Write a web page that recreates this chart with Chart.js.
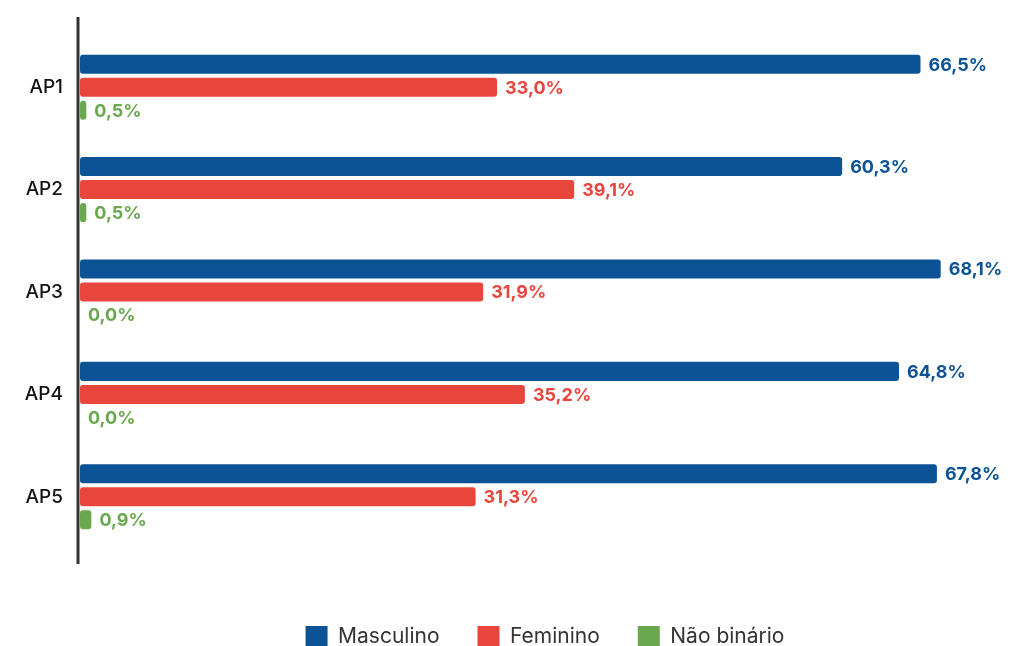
<!DOCTYPE html>
<html>
<head>
<meta charset="utf-8">
<script src="https://cdn.jsdelivr.net/npm/chart.js@4"></script>
<style>
  html, body { margin: 0; padding: 0; background: #fff; }
  #wrap { width: 1010px; height: 646px; overflow: hidden; }
  #box { position: relative; width: 1010px; height: 658px; }
</style>
</head>
<body>
<div id="wrap"><div id="box"><canvas id="chart"></canvas></div></div>
<script>
const categories = ["AP1", "AP2", "AP3", "AP4", "AP5"];
const masculino = [66.5, 60.3, 68.1, 64.8, 67.8];
const feminino = [33.0, 39.1, 31.9, 35.2, 31.3];
const naoBinario = [0.5, 0.5, 0.0, 0.0, 0.9];

const BLUE = "#0b5394";
const RED = "#e8453c";
const GREEN = "#6aa84f";
const FONT = "Inter, 'DejaVu Sans', sans-serif";

// vertical axis line, a bit longer than the plot area
const axisLine = {
    id: "axisLine",
    afterDatasetsDraw(chart) {
        const { ctx, chartArea } = chart;
        ctx.save();
        ctx.strokeStyle = "#333333";
        ctx.lineWidth = 3;
        ctx.beginPath();
        ctx.moveTo(chartArea.left - 2, chartArea.top - 19);
        ctx.lineTo(chartArea.left - 2, chartArea.bottom + 16);
        ctx.stroke();
        ctx.restore();
    }
};

// value labels at the end of each bar
const valueLabels = {
    id: "valueLabels",
    afterDatasetsDraw(chart) {
        const { ctx } = chart;
        ctx.save();
        ctx.font = "bold 18px " + FONT;
        ctx.textBaseline = "middle";
        ctx.textAlign = "left";
        chart.data.datasets.forEach((ds, i) => {
            const meta = chart.getDatasetMeta(i);
            meta.data.forEach((bar, j) => {
                const v = ds.data[j];
                ctx.fillStyle = ds.backgroundColor;
                ctx.fillText(v.toFixed(1).replace(".", ",") + "%", bar.x + 8, bar.y + 1);
            });
        });
        ctx.restore();
    }
};

// center the legend under the plot area instead of the whole canvas
const legendShift = {
    id: "legendShift",
    afterLayout(chart) {
        chart.legend.left = chart.chartArea.left;
        chart.legend.right = chart.width;
    }
};

new Chart(document.getElementById("chart"), {
    type: "bar",
    data: {
        labels: categories,
        datasets: [
            { label: "Masculino", data: masculino, backgroundColor: BLUE },
            { label: "Feminino", data: feminino, backgroundColor: RED },
            { label: "Não binário", data: naoBinario, backgroundColor: GREEN }
        ]
    },
    options: {
        indexAxis: "y",
        responsive: true,
        maintainAspectRatio: false,
        animation: false,
        layout: { padding: { top: 36, right: 20, left: 0, bottom: 0 } },
        datasets: {
            bar: {
                categoryPercentage: 0.675,
                barPercentage: 0.826,
                borderRadius: 3,
                borderSkipped: false
            }
        },
        scales: {
            x: {
                min: 0,
                max: 72,
                grid: { display: false },
                border: { display: false },
                ticks: { display: false },
                afterFit(scale) { scale.height = 40; }
            },
            y: {
                grid: { display: false, drawTicks: false },
                border: { display: false },
                ticks: {
                    color: "#111111",
                    padding: 17,
                    font: { family: FONT, size: 19, weight: "500" }
                },
                afterFit(scale) { scale.width = 80; }
            }
        },
        plugins: {
            tooltip: { enabled: false },
            legend: {
                position: "bottom",
                labels: {
                    boxWidth: 22,
                    boxHeight: 22,
                    padding: 38,
                    color: "#333333",
                    font: { family: FONT, size: 21 }
                }
            }
        }
    },
    plugins: [axisLine, valueLabels, legendShift]
});
</script>
</body>
</html>
